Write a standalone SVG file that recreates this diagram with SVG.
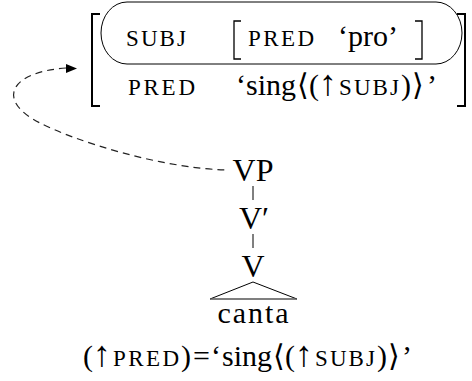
<svg xmlns="http://www.w3.org/2000/svg" width="472" height="381" viewBox="0 0 472 381">
<style>
text{font-family:"Liberation Serif","DejaVu Serif",serif;fill:#000;font-size:30px}
.sc{font-size:23px}
.ar{font-size:36px}
.nd{font-size:32px}
.br{fill:none;stroke:#000;stroke-width:2}
.bri{fill:none;stroke:#000;stroke-width:1.3}
.ln{fill:none;stroke:#000;stroke-width:1}
.dash{fill:none;stroke:#222;stroke-width:1.2;stroke-dasharray:7 5}
</style>
<rect width="472" height="381" fill="#fff"/>
<g id="fstructure">
<path class="br" d="M100,14 H92 V106 H100"/>
<path class="br" d="M457,14 H465 V106 H457"/>
<rect class="ln" x="101" y="2" width="361" height="62" rx="26" ry="31"/>
<text class="sc" x="126" y="46" textLength="60">SUBJ</text>
<path class="bri" d="M241,21 H234 V59 H241"/>
<text class="sc" x="248" y="46" textLength="66">PRED</text>
<text x="338" y="46">‘pro’</text>
<path class="bri" d="M415,21 H422 V59 H415"/>
<text class="sc" x="128" y="95" textLength="67">PRED</text>
<text y="95"><tspan x="236">‘</tspan><tspan x="246">sing</tspan><tspan x="297">⟨</tspan><tspan x="309">(</tspan><tspan class="ar" x="319">↑</tspan><tspan class="sc" x="339" textLength="60">SUBJ</tspan><tspan x="401">)</tspan><tspan x="412">⟩</tspan><tspan x="427">’</tspan></text>
</g>
<g id="connectors">
<path class="dash" d="M66,68 C10,72 -5,100 40,123 C75,141 160,168 226,170"/>
<polygon points="77,68.5 66,64 66,73" fill="#000"/>
<path class="ln" d="M253,186 V200"/>
<path class="ln" d="M253,234 V248"/>
<path class="ln" d="M253,282 L210,299 M253,282 L297,299"/>
<path d="M210,299 H297" stroke="#555" stroke-width="1.6"/>
</g>
<g id="VP"><text class="nd" x="253" y="181" text-anchor="middle">VP</text></g>
<g id="Vbar"><text class="nd" x="254" y="229" text-anchor="middle">V′</text></g>
<g id="V"><text class="nd" x="253" y="277" text-anchor="middle">V</text></g>
<g id="canta"><text x="253" y="323" text-anchor="middle" textLength="71">canta</text></g>
<g id="equation">
<text y="366"><tspan x="83">(</tspan><tspan class="ar" x="93">↑</tspan><tspan class="sc" x="113" textLength="66">PRED</tspan><tspan x="181">)</tspan><tspan x="193">=</tspan><tspan x="211">‘</tspan><tspan x="222">sing</tspan><tspan x="273">⟨</tspan><tspan x="285">(</tspan><tspan class="ar" x="295">↑</tspan><tspan class="sc" x="315" textLength="60">SUBJ</tspan><tspan x="377">)</tspan><tspan x="388">⟩</tspan><tspan x="402">’</tspan></text>
</g>
</svg>
